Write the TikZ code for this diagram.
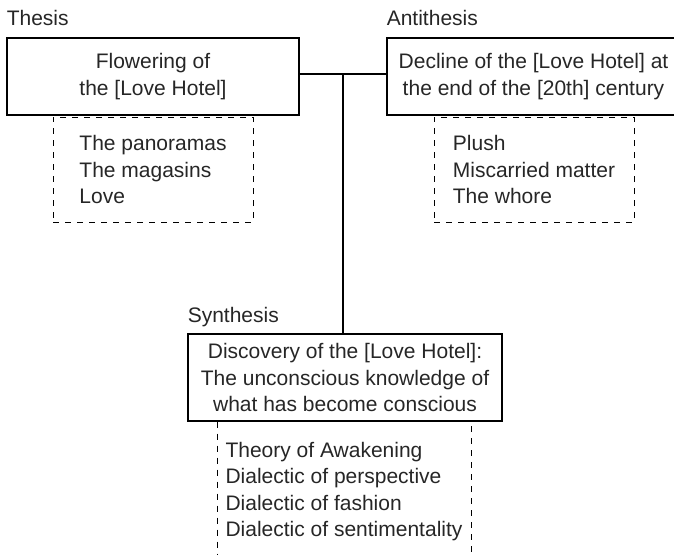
\documentclass[tikz,border=0pt]{standalone}
\usepackage{fontspec}
\setmainfont{Liberation Sans}
\usepackage{tikz}
\usetikzlibrary{positioning}
\usepackage{xcolor}

\begin{document}
\begin{tikzpicture}[x=0.5pt,y=-0.5pt,
		font=\fontsize{10.5}{13.25}\selectfont,
		mainbox/.style={draw,line width=0.6pt,align=center,inner sep=0pt},
		listbox/.style={draw,dashed,line width=0.5pt,align=left,inner sep=0pt,minimum width=100pt},
		tag/.style={anchor=base west,inner sep=0pt}]
	\useasboundingbox (0,0) rectangle (674,554);
	\begin{scope}[text=black!85]
		\node[mainbox,minimum width=146pt,minimum height=38.5pt] (thesis) at (153,76.5) {Flowering of\\the [Love Hotel]};
		\node[mainbox,minimum width=146.5pt,minimum height=38.5pt] (anti) at (533.5,76.5) {Decline of the [Love Hotel] at\\the end of the [20th] century};
		\node[mainbox,minimum width=157pt,minimum height=43.5pt] (syn) at (345,377.5) {Discovery of the [Love Hotel]:\\The unconscious knowledge of\\what has become conscious};
	\end{scope}
	\begin{scope}[text=black!85]
		\node[listbox,minimum height=52.5pt] (thesislist) at (153,169.5) {The panoramas\\The magasins\\Love};
		\node[listbox,minimum height=52.5pt] (antilist) at (534,169.5) {Plush\\Miscarried matter\\The whore};
		\node[listbox,minimum width=127pt,minimum height=70pt,anchor=north] (synlist) at (344,421) {Theory of Awakening\\Dialectic of perspective\\Dialectic of fashion\\Dialectic of sentimentality};
	\end{scope}
	\begin{scope}[text=black!85]
		\node[tag] (thesistag) at ([yshift=6pt]thesis.north west) {Thesis};
		\node[tag] (antitag) at ([yshift=6pt]anti.north west) {Antithesis};
		\node[tag] (syntag) at ([yshift=5.5pt]syn.north west) {Synthesis};
	\end{scope}
	\coordinate (junc) at (343,74);
	\begin{scope}[line width=0.6pt]
		\draw (thesis.east |- junc) -- (anti.west |- junc);
		\draw (junc) -- (junc |- syn.north);
	\end{scope}
\end{tikzpicture}
\end{document}
